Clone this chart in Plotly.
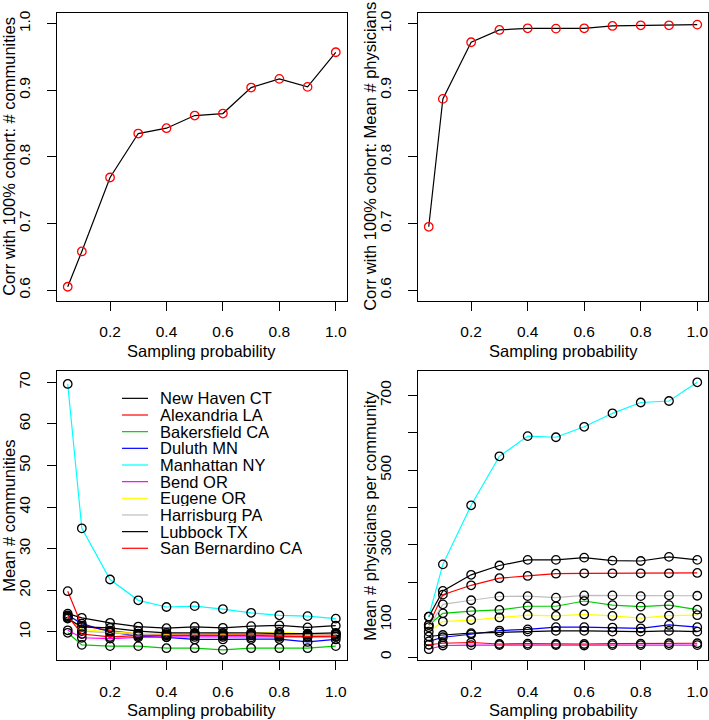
import plotly.graph_objects as go

# ---------------- data ----------------
sampling_prob = [0.05, 0.1, 0.2, 0.3, 0.4, 0.5, 0.6, 0.7, 0.8, 0.9, 1.0]

corr_communities = [0.605, 0.658, 0.769, 0.835, 0.843, 0.862, 0.865, 0.904, 0.917, 0.905, 0.957]
corr_physicians = [0.695, 0.887, 0.972, 0.9905, 0.993, 0.9925, 0.993, 0.9965, 0.9975, 0.9975, 0.9985]

city_names = ["New Haven CT", "Alexandria LA", "Bakersfield CA", "Duluth MN", "Manhattan NY",
              "Bend OR", "Eugene OR", "Harrisburg PA", "Lubbock TX", "San Bernardino CA"]
city_colors = ["#000000", "#FF0000", "#00CD00", "#0000FF", "#00FFFF",
               "#FF00FF", "#FFFF00", "#BEBEBE", "#000000", "#FF0000"]

mean_communities = [
    [14.4, 13.4, 12.2, 11.3, 10.9, 11.2, 11.0, 11.4, 11.6, 11.1, 11.5],   # New Haven CT
    [19.8, 11.5, 10.3, 9.5, 9.4, 9.4, 9.5, 9.3, 9.4, 9.3, 9.5],           # Alexandria LA
    [9.8, 6.9, 6.6, 6.6, 6.1, 6.1, 5.7, 6.1, 6.1, 6.1, 6.6],              # Bakersfield CA
    [14.0, 12.0, 10.0, 9.0, 8.7, 8.2, 8.2, 8.3, 8.3, 7.6, 8.2],           # Duluth MN
    [69.6, 34.9, 22.6, 17.6, 16.0, 16.2, 15.5, 14.6, 14.0, 13.8, 13.2],   # Manhattan NY
    [10.4, 8.6, 8.4, 8.7, 8.8, 8.8, 8.8, 8.7, 8.8, 8.8, 8.8],             # Bend OR
    [13.4, 10.6, 10.0, 9.6, 9.4, 9.6, 9.5, 9.6, 10.0, 9.5, 9.6],          # Eugene OR
    [13.6, 10.2, 9.8, 9.4, 9.2, 9.3, 9.2, 9.2, 9.3, 9.3, 9.3],            # Harrisburg PA
    [13.2, 11.2, 11.0, 10.2, 9.8, 9.8, 9.8, 9.8, 9.6, 9.6, 9.8],          # Lubbock TX
    [13.8, 9.5, 8.8, 9.1, 9.2, 9.2, 9.1, 9.2, 9.0, 8.9, 9.0],             # San Bernardino CA
]

mean_physicians = [
    [108, 177, 220, 245, 260, 260, 266, 258, 257, 268, 260],   # New Haven CT
    [86, 167, 192, 211, 217, 223, 224, 224, 224, 224, 225],    # Alexandria LA
    [86, 117, 123, 126, 136, 136, 150, 139, 135, 139, 127],    # Bakersfield CA
    [42, 53, 61, 71, 74, 80, 80, 79, 77, 86, 80],              # Duluth MN
    [108, 248, 406, 537, 591, 588, 616, 652, 681, 685, 735],   # Manhattan NY
    [21, 31, 32, 32, 32, 32, 31, 32, 32, 32, 32],              # Bend OR
    [68, 95, 99, 106, 112, 110, 114, 110, 104, 111, 112],      # Eugene OR
    [80, 141, 152, 162, 163, 159, 165, 165, 163, 165, 164],    # Harrisburg PA
    [55, 59, 64, 66, 68, 70, 70, 68, 68, 70, 68],              # Lubbock TX
    [33, 37, 39, 35, 36, 35, 35, 36, 36, 37, 37],              # San Bernardino CA
]

x_tickvals = [0.2, 0.4, 0.6, 0.8, 1.0]
corr_tickvals = [0.6, 0.7, 0.8, 0.9, 1.0]
comm_tickvals = [10, 20, 30, 40, 50, 60, 70]
phys_tickvals = [0, 100, 200, 300, 400, 500, 600, 700]
phys_ticktext = ["0", "100", "", "300", "", "500", "", "700"]

x_title = "Sampling probability"
y_titles = ["Corr with 100% cohort: # communities",
            "Corr with 100% cohort: Mean # physicians",
            "Mean # communities",
            "Mean # physicians per community"]

# ---------------- layout geometry ----------------
W, H = 709, 720
FONT = "Liberation Sans, Arial, Helvetica, sans-serif"
TICK_SIZE = 15.5
TITLE_SIZE = 16.5

col_px = [(57, 346.5), (418, 708)]
row_px = [(10, 299), (370, 660)]

def xdom(c):
    return [col_px[c][0] / W, col_px[c][1] / W]

def ydom(r):
    return [1 - row_px[r][1] / H, 1 - row_px[r][0] / H]

fig = go.Figure()

panels = [
    dict(r=0, c=0, yr=[0.584, 1.016], yt=corr_tickvals, ytt=None, fmt=".1f"),
    dict(r=0, c=1, yr=[0.584, 1.016], yt=corr_tickvals, ytt=None, fmt=".1f"),
    dict(r=1, c=0, yr=[3.2, 72.6], yt=comm_tickvals, ytt=None, fmt="d"),
    dict(r=1, c=1, yr=[-8.5, 764], yt=phys_tickvals, ytt=phys_ticktext, fmt="d"),
]

axis_common = dict(showgrid=False, zeroline=False, showline=True, mirror=True,
                   linecolor="black", linewidth=1.2, ticks="outside", ticklen=9,
                   tickwidth=1.2, tickcolor="black",
                   tickfont=dict(family=FONT, size=TICK_SIZE, color="black"))

for i, p in enumerate(panels):
    n = "" if i == 0 else str(i + 1)
    xa = dict(axis_common, domain=xdom(p["c"]), range=[0.012, 1.038],
              tickvals=x_tickvals, tickformat=".1f", anchor="y" + n,
              ticklabelstandoff=8)
    ya = dict(axis_common, domain=ydom(p["r"]), range=p["yr"], tickvals=p["yt"],
              tickangle=-90, anchor="x" + n, ticklabelstandoff=11)
    if p["ytt"] is not None:
        ya["ticktext"] = p["ytt"]
    else:
        ya["tickformat"] = p["fmt"]
    fig.update_layout(**{"xaxis" + n: xa, "yaxis" + n: ya})

marker_open = dict(symbol="circle-open", size=8.5, line=dict(width=1.3))

fig.add_trace(go.Scatter(x=sampling_prob, y=corr_communities, mode="lines+markers",
                         line=dict(color="black", width=1.2),
                         marker=dict(marker_open, color="red"),
                         xaxis="x", yaxis="y", showlegend=False))
fig.add_trace(go.Scatter(x=sampling_prob, y=corr_physicians, mode="lines+markers",
                         line=dict(color="black", width=1.2),
                         marker=dict(marker_open, color="red"),
                         xaxis="x2", yaxis="y2", showlegend=False))
for name, col, comm, phys in zip(city_names, city_colors, mean_communities, mean_physicians):
    fig.add_trace(go.Scatter(x=sampling_prob, y=comm, mode="lines+markers", name=name,
                             line=dict(color=col, width=1.2),
                             marker=dict(marker_open, color="black"),
                             xaxis="x3", yaxis="y3", showlegend=False))
    fig.add_trace(go.Scatter(x=sampling_prob, y=phys, mode="lines+markers", name=name,
                             line=dict(color=col, width=1.2),
                             marker=dict(marker_open, color="black"),
                             xaxis="x4", yaxis="y4", showlegend=False))

annotations = []
shapes = []
title_font = dict(family=FONT, size=TITLE_SIZE, color="black")
for i, p in enumerate(panels):
    xd = xdom(p["c"])
    yd = ydom(p["r"])
    xt_y = row_px[p["r"]][1] + 50
    annotations.append(dict(text=x_title, xref="paper", yref="paper",
                            x=(xd[0] + xd[1]) / 2, y=1 - xt_y / H,
                            xanchor="center", yanchor="middle", showarrow=False,
                            font=title_font))
    yt_x = col_px[p["c"]][0] - 48
    annotations.append(dict(text=y_titles[i], xref="paper", yref="paper",
                            x=yt_x / W, y=(yd[0] + yd[1]) / 2, textangle=-90,
                            xanchor="center", yanchor="middle", showarrow=False,
                            font=title_font))

leg_top = 397
leg_step = 16.73
for k, (name, col) in enumerate(zip(city_names, city_colors)):
    yk = 1 - (leg_top + k * leg_step) / H
    shapes.append(dict(type="line", xref="paper", yref="paper",
                       x0=122 / W, x1=148 / W, y0=yk, y1=yk,
                       line=dict(color=col, width=1.2)))
    annotations.append(dict(text=name, xref="paper", yref="paper",
                            x=159 / W, y=yk, xanchor="left", yanchor="middle",
                            height=16, borderpad=0,
                            showarrow=False, font=title_font))

fig.update_layout(width=W, height=H, autosize=False,
                  margin=dict(l=0, r=0, t=0, b=0),
                  paper_bgcolor="white", plot_bgcolor="white",
                  showlegend=False, annotations=annotations, shapes=shapes,
                  font=dict(family=FONT, color="black"))

fig.write_html("out.html", config={"displayModeBar": False},
               post_script="document.body.style.margin='0';document.body.style.overflow='hidden';")
